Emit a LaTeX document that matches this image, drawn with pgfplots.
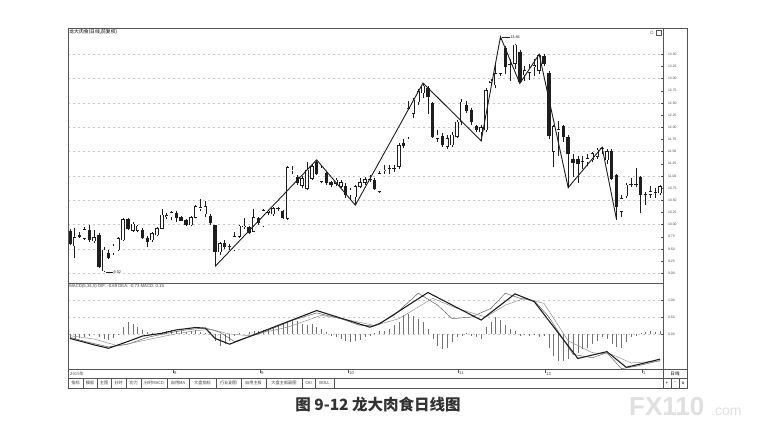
\documentclass[border=0pt]{standalone}
\usepackage{pgfplots}
\pgfplotsset{compat=1.18}
\usepackage{pgfplotstable}
\usepackage{fontspec}
\setmainfont{Liberation Sans}
\newfontfamily\cjk{Noto Sans CJK SC}

\definecolor{cdk}{HTML}{1E1E1E}
\definecolor{grd}{HTML}{C8C8C8}
\definecolor{frm}{HTML}{555555}

% daily candles: index, open, high, low, close
\pgfplotstableread{
i o h l c
0 9.86 9.90 9.58 9.61
1 9.56 9.92 9.31 9.73
2 9.78 9.84 9.72 9.76
3 9.72 9.95 9.68 9.90
4 9.88 10.00 9.65 9.68
5 9.66 9.88 9.62 9.74
6 9.79 9.82 9.10 9.14
7 9.05 9.55 9.02 9.48
8 9.42 9.47 9.30 9.33
9 9.42 9.60 9.38 9.56
10 9.48 9.75 9.45 9.72
11 9.68 10.14 9.66 10.11
12 10.11 10.14 9.88 9.92
13 9.88 10.05 9.85 10.01
14 9.88 10.00 9.84 9.97
15 9.88 9.92 9.70 9.74
16 9.72 9.76 9.55 9.65
17 9.68 9.85 9.65 9.82
18 9.79 9.96 9.76 9.92
19 9.92 10.33 9.90 10.20
20 10.17 10.24 10.12 10.19
21 10.16 10.28 10.10 10.25
22 10.24 10.28 10.05 10.15
23 10.16 10.18 10.07 10.09
24 10.09 10.12 9.97 9.99
25 9.99 10.18 9.97 10.15
26 10.15 10.40 10.13 10.37
27 10.32 10.52 10.27 10.35
28 10.22 10.49 10.15 10.37
29 10.18 10.22 10.00 10.04
30 9.99 10.00 9.14 9.44
31 9.44 9.65 9.37 9.61
32 9.62 9.68 9.50 9.55
33 9.56 9.60 9.48 9.54
34 9.48 9.85 9.45 9.75
35 9.75 10.00 9.72 9.97
36 9.95 10.13 9.90 9.97
37 9.94 9.97 9.80 9.83
38 9.86 10.33 9.84 10.15
39 10.12 10.15 10.00 10.03
40 9.97 10.33 9.95 10.29
41 10.25 10.30 10.20 10.28
42 10.22 10.36 10.18 10.33
43 10.33 10.36 10.28 10.32
44 10.27 10.30 10.12 10.15
45 10.13 11.20 10.10 11.17
46 11.10 11.20 11.05 11.12
47 10.98 11.02 10.82 10.86
48 10.80 11.00 10.75 10.95
49 10.74 11.29 10.72 11.12
50 10.95 11.24 10.92 11.19
51 11.29 11.33 11.02 11.05
52 10.88 11.20 10.85 11.16
53 11.05 11.10 10.82 10.86
54 10.86 10.90 10.78 10.81
55 10.85 10.95 10.80 10.92
56 10.78 10.92 10.75 10.86
57 10.78 10.85 10.55 10.61
58 10.61 10.75 10.50 10.71
59 10.57 10.82 10.40 10.78
60 10.78 10.95 10.75 10.86
61 10.86 10.98 10.82 10.93
62 10.92 11.02 10.88 10.93
63 10.92 10.95 10.72 10.74
64 10.68 11.10 10.65 11.05
65 11.10 11.22 11.05 11.12
66 11.15 11.22 11.05 11.16
67 11.16 11.22 11.08 11.15
68 11.19 11.68 11.15 11.63
69 11.68 11.75 11.58 11.62
70 11.80 12.55 11.75 12.39
71 12.28 12.60 12.20 12.56
72 12.52 12.78 12.45 12.73
73 12.70 12.91 12.60 12.85
74 12.80 12.85 12.28 12.63
75 12.49 12.52 11.78 11.81
76 11.77 11.95 11.70 11.84
77 11.81 11.88 11.60 11.64
78 11.60 11.85 11.55 11.77
79 11.64 11.90 11.60 11.84
80 11.81 12.15 11.78 12.11
81 12.11 12.58 12.05 12.52
82 12.46 12.55 12.30 12.35
83 12.35 12.40 12.05 12.11
84 12.01 12.05 11.90 11.94
85 11.90 12.05 11.72 12.00
86 11.94 12.80 11.90 12.76
87 12.92 13.00 12.85 12.95
88 12.87 13.30 12.80 13.11
89 13.11 13.86 13.05 13.79
90 13.62 13.68 13.10 13.24
91 13.30 13.40 12.95 13.28
92 13.31 13.72 13.20 13.69
93 13.55 13.58 12.90 12.94
94 13.07 13.25 12.95 13.17
95 13.12 13.30 12.98 13.22
96 13.25 13.40 13.05 13.27
97 13.17 13.50 13.10 13.48
98 13.45 13.50 13.25 13.31
99 13.10 13.15 11.75 11.82
100 11.50 12.05 11.19 12.01
101 11.90 12.12 11.40 11.95
102 12.01 12.05 11.70 11.80
103 11.80 11.85 10.76 11.45
104 11.34 11.45 10.98 11.27
105 11.34 11.40 10.85 11.26
106 11.30 11.40 11.15 11.31
107 11.29 11.45 11.20 11.36
108 11.33 11.50 11.28 11.46
109 11.40 11.58 11.35 11.53
110 11.55 11.59 11.45 11.56
111 11.33 11.56 11.25 11.50
112 11.50 11.55 10.92 10.95
113 11.02 11.05 10.10 10.37
114 10.27 10.60 10.15 10.54
115 10.59 10.85 10.55 10.81
116 10.82 10.95 10.78 10.83
117 10.83 11.16 10.78 10.82
118 10.97 11.00 10.23 10.61
119 10.61 10.68 10.40 10.62
120 10.62 10.80 10.55 10.68
121 10.66 10.75 10.55 10.67
122 10.65 10.82 10.60 10.78
}\candles

\pgfplotsset{
  panel/.style={
    scale only axis, width=595pt,
    xmin=-0.4, xmax=122.6,
    axis line style={draw=frm, line width=0.5pt},
    xtick=\empty,
    ytick pos=right, yticklabel pos=right,
    tick align=inside, major tick length=2pt,
    ytick style={draw=frm, line width=0.4pt},
    yticklabel style={font=\fontsize{3.4}{4}\selectfont, text=black!70, xshift=1.5pt},
    /pgf/number format/assume math mode=true,
    /pgf/number format/fixed,
    /pgf/number format/fixed zerofill,
    /pgf/number format/precision=2,
    major grid style={draw=grd, line width=0.35pt, dash pattern=on 2pt off 3pt},
  },
  candle/.style 2 args={draw=none, mark=none, forget plot,
    error bars/.cd, y dir=plus, y explicit, error mark=none,
    error bar style={solid, line width=#1, draw=#2}},
}

\begin{document}
\begin{tikzpicture}
\fill[white] (0,0) rectangle (758pt,-427pt);
\path[use as bounding box] (0,0) rectangle (758pt,-427pt);

% price panel
\begin{axis}[panel, at={(68pt,-28pt)}, anchor=north west, height=255pt,
  ymin=8.80, ymax=14.04,
  ytick={9,9.5,...,13.5}, ymajorgrids,
  extra y ticks={9.25,9.75,...,13.25},
  extra y tick style={grid=none},
]
% wicks
\addplot[candle={0.55pt}{cdk}]
  table[x=i, y=l, y error plus expr={\thisrow{h}-\thisrow{l}}] {\candles};
% bodies
\addplot[candle={3.4pt}{cdk}]
  table[x=i, y expr={min(\thisrow{o},\thisrow{c})-0.006},
        y error plus expr={abs(\thisrow{c}-\thisrow{o})+0.012}] {\candles};
% hollow inside of rising candles
\addplot[candle={2.2pt}{white}]
  table[x=i, y expr={((\thisrow{c}-\thisrow{o})>0.015) ? (\thisrow{o}+0.006) : nan},
        y error plus expr={\thisrow{c}-\thisrow{o}-0.012}] {\candles};
% zigzag trend line
\addplot[cdk, line width=0.9pt, mark=none] coordinates {
  (30,9.14) (51,11.33) (59,10.40) (73,12.91) (85,11.72) (89,13.86)
  (93,12.90) (97,13.50) (103,10.76) (110,11.59) (113,10.10)};
\draw[cdk, line width=0.4pt] (axis cs:89.4,13.86) -- (axis cs:90.9,13.86)
  node[right, inner sep=0.4pt, font=\fontsize{3.8}{4}\selectfont]{13.86};
\draw[cdk, line width=0.4pt] (axis cs:7.4,9.02) -- (axis cs:8.9,9.02)
  node[right, inner sep=0.4pt, font=\fontsize{3.8}{4}\selectfont]{9.02};
\node[anchor=north west, inner sep=1.2pt, font=\cjk\fontsize{4.8}{5}\selectfont]
  at (rel axis cs:0,1) {龙大肉食(日线,前复权)};
\end{axis}

% MACD panel
\begin{axis}[panel, at={(68pt,-283pt)}, anchor=north west, height=86pt,
  ymin=-1.03, ymax=1.5, ytick={0,0.5,1}, ymajorgrids,
]
\addplot[ycomb, draw=black!55, line width=0.45pt, mark=none] coordinates {
  (0,-0.10) (1,-0.15) (2,-0.12) (3,-0.08) (4,-0.05) (5,0.00) (6,-0.08) (7,-0.15)
  (8,-0.18) (9,-0.12) (10,-0.02) (11,0.20) (12,0.35) (13,0.30) (14,0.22) (15,0.12)
  (16,0.05) (17,0.02) (18,0.03) (19,0.05) (20,0.10) (21,0.12) (22,0.08) (23,0.10)
  (24,0.05) (25,0.08) (26,0.12) (27,0.06) (28,0.03) (29,0.05) (30,-0.20) (31,-0.35)
  (32,-0.30) (33,-0.20) (34,-0.05) (35,0.02) (36,0.00) (37,0.05) (38,0.08) (39,0.10)
  (40,0.12) (41,0.15) (42,0.20) (43,0.25) (44,0.28) (45,0.35) (46,0.40) (47,0.38)
  (48,0.30) (49,0.25) (50,0.30) (51,0.22) (52,0.15) (53,0.05) (54,-0.05) (55,-0.10)
  (56,-0.15) (57,-0.20) (58,-0.25) (59,-0.22) (60,-0.18) (61,-0.10) (62,-0.05) (63,0.03)
  (64,0.08) (65,0.10) (66,0.15) (67,0.25) (68,0.35) (69,0.55) (70,0.60) (71,0.52)
  (72,0.45) (73,0.35) (74,0.15) (75,-0.15) (76,-0.35) (77,-0.45) (78,-0.40) (79,-0.25)
  (80,-0.10) (81,-0.05) (82,0.02) (83,-0.05) (84,-0.10) (85,-0.15) (86,0.20) (87,0.35)
  (88,0.50) (89,0.40) (90,0.25) (91,0.15) (92,0.10) (93,-0.05) (94,-0.03) (95,-0.05)
  (96,-0.02) (97,-0.08) (98,-0.05) (99,-0.40) (100,-0.65) (101,-0.80) (102,-0.78) (103,-0.75)
  (104,-0.60) (105,-0.55) (106,-0.45) (107,-0.40) (108,-0.30) (109,-0.20) (110,-0.10) (111,-0.15)
  (112,-0.30) (113,-0.38) (114,-0.40) (115,-0.25) (116,-0.10) (117,-0.05) (118,0.02) (119,0.05)
  (120,0.08) (121,0.05) (122,0.10)};
\addplot[black!65, line width=0.45pt, mark=none] coordinates {
  (0,-0.10) (4,-0.25) (8,-0.38) (12,-0.30) (16,-0.10) (20,0.02) (24,0.12) (28,0.18)
  (31,0.05) (34,-0.22) (40,0.05) (46,0.40) (51,0.62) (56,0.45) (60,0.25) (63,0.24)
  (67,0.55) (72,1.20) (76,0.85) (79,0.45) (83,0.50) (87,0.75) (90,1.20) (93,1.05)
  (96,0.98) (99,0.50) (104,-0.60) (108,-0.70) (111,-0.55) (114,-1.02) (117,-0.95) (122,-0.78)};
\addplot[black!45, line width=0.45pt, mark=none] coordinates {
  (0,-0.05) (5,-0.15) (10,-0.35) (15,-0.20) (20,-0.05) (25,0.08) (29,0.14) (33,0.00)
  (37,-0.05) (45,0.20) (52,0.55) (58,0.40) (63,0.25) (68,0.45) (75,1.05) (80,0.75)
  (86,0.50) (90,0.85) (94,1.05) (98,0.90) (103,-0.20) (108,-0.55) (112,-0.60) (116,-0.85)
  (122,-0.80)};
\addplot[cdk, line width=1.1pt, mark=none] coordinates {
  (0,-0.13) (5,-0.32) (8,-0.42) (12,-0.22) (15,-0.06) (19,0.02) (22,0.12) (26,0.19)
  (28,0.17) (30,-0.13) (33,-0.30) (51,0.69) (62,0.20) (64,0.30) (74,1.22) (85,0.41)
  (92,1.18) (96,0.95) (105,-0.72) (111,-0.52) (115,-0.98) (118,-0.88) (122,-0.74)};
\node[anchor=north west, inner sep=1.2pt, font=\fontsize{4.3}{5}\selectfont, text=black!75]
  at (rel axis cs:0,1) {MACD(5,34,5) DIF: -0.69 DEA: -0.73 MACD: 0.15};
\end{axis}

% frame, date row, tabs
\draw[frm, line width=0.5pt] (68pt,-28pt) rectangle (687pt,-388pt);
\draw[frm, line width=0.5pt] (663pt,-28pt) -- (663pt,-388pt);
\draw[frm, line width=0.4pt] (68pt,-378pt) -- (687pt,-378pt);
\draw[frm, line width=0.4pt] (663pt,-369pt) -- (687pt,-369pt);
\node[anchor=west, inner sep=0pt, font=\cjk\fontsize{4.3}{5}\selectfont, text=black!70]
  at (70pt,-373.5pt) {2015年};
\foreach \px/\lb in {173/8, 260/9, 348/10, 458/11, 545/12, 642/1} {
  \draw[frm, line width=0.35pt] (\px pt,-369pt) -- (\px pt,-373pt);
  \node[anchor=west, inner sep=0pt, font=\fontsize{4.3}{5}\selectfont, text=black!70]
    at (\px pt+1pt,-373.5pt) {\lb};
}
\foreach \a/\b/\t in {68/83/指标, 83/97/模板, 97/111/主图, 111/126/分时, 126/141/功力,
  141/167/分时MACD, 167/189/自用MA, 189/216/大盘指标, 216/241/行业副图,
  241/266/自用主板, 266/302/大盘主板副图, 302/315/CAI, 315/334/BOLL} {
  \draw[frm, line width=0.35pt] (\a pt,-378pt) rectangle (\b pt,-388pt);
  \node[inner sep=0pt, font=\cjk\fontsize{4.2}{5}\selectfont, text=black!75]
    at ({(\a+\b)/2*1pt},-383pt) {\t};
}
\node[inner sep=0pt, font=\cjk\fontsize{4.6}{5}\selectfont] at (675pt,-373.5pt) {日线};
\foreach \a/\t in {663/+, 671/-, 679/o} {
  \draw[frm, line width=0.35pt] (\a pt,-378pt) rectangle (\a pt+8pt,-388pt);
  \node[inner sep=0pt, font=\fontsize{4.5}{5}\selectfont] at (\a pt+4pt,-383pt) {\t};
}
\node[inner sep=0pt, font=\fontsize{4.5}{5}\selectfont, text=black!60] at (652pt,-33pt) {D};
\draw[frm, line width=0.35pt] (656pt,-30.5pt) rectangle (661pt,-35.5pt);

% caption and watermark
\node[font=\cjk\bfseries\fontsize{15.5}{18}\selectfont, text=black!80]
  at (378pt,-405pt) {图 9-12 龙大肉食日线图};
\node[anchor=base west, inner sep=0pt, text=black!12, font=\bfseries\fontsize{26}{26}\selectfont]
  at (629pt,-416pt) {FX110};
\node[anchor=base west, inner sep=0pt, text=black!12, font=\fontsize{14}{14}\selectfont]
  at (711pt,-416pt) {.com};
\end{tikzpicture}
\end{document}
